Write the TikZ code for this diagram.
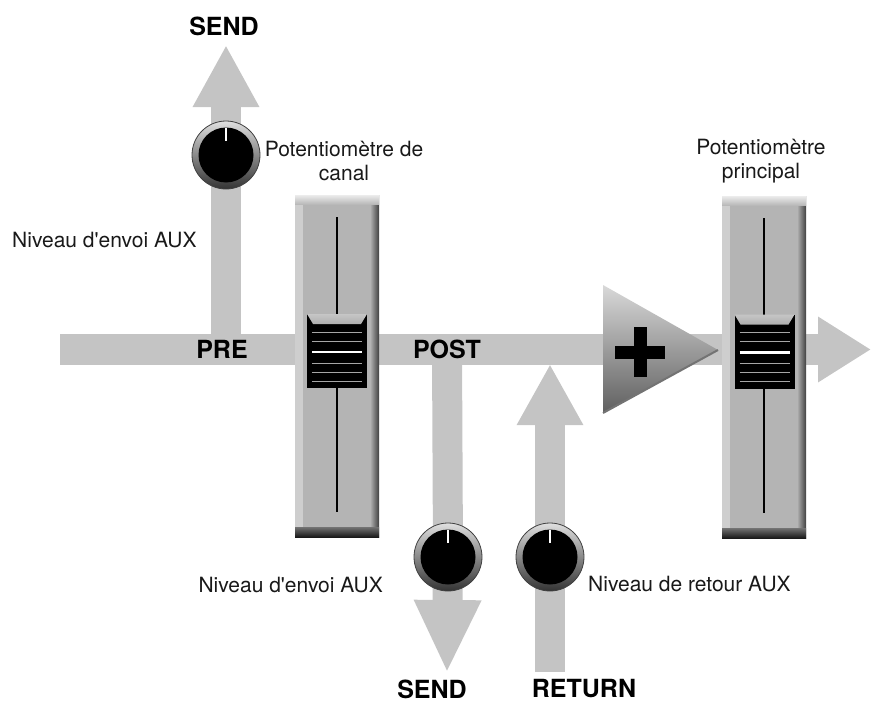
\documentclass[tikz,border=0pt]{standalone}
\usepackage{fontspec}
\setmainfont{TeX Gyre Heros}
\usetikzlibrary{arrows.meta,backgrounds}

\definecolor{siggray}{RGB}{196,196,196}
\definecolor{panelgray}{RGB}{180,180,180}
\definecolor{bevellight}{RGB}{206,206,206}

\tikzset{
  sig/.style={draw=siggray, line width=30pt, -{Triangle[length=#1,width=62pt]}},
  sig/.default=62pt,
  lbl/.style={font=\fontsize{21}{24}\selectfont, inner sep=0pt, text=black!90},
  tag/.style={font=\fontsize{25}{28}\selectfont\bfseries, inner sep=0pt},
  knob/.style={circle, minimum size=68pt, inner sep=0pt, draw=black!75, line width=0.8pt,
    top color=gray!25, bottom color=black!80,
    path picture={
      \fill[black] (path picture bounding box.center) circle[radius=27.5pt];
      \draw[white, line width=2pt] ([yshift=27pt]path picture bounding box.center)
        -- ([yshift=14pt]path picture bounding box.center);
    }},
  fader/.style={rectangle, inner sep=0pt, minimum width=84pt, minimum height=342pt, fill=panelgray,
    path picture={
      \fill[bevellight] (path picture bounding box.north west) rectangle ([xshift=8pt]path picture bounding box.south west);
      \shade[left color=panelgray, right color=black!75] ([xshift=-9pt]path picture bounding box.north east)
        rectangle (path picture bounding box.south east);
      \shade[top color=gray!15, bottom color=gray!55] (path picture bounding box.north west)
        rectangle ([yshift=-9pt]path picture bounding box.north east);
      \shade[top color=black!55, bottom color=black!90] ([yshift=10pt]path picture bounding box.south west)
        rectangle (path picture bounding box.south east);
      \draw[black, line width=2.5pt] ([yshift=-22pt]path picture bounding box.north)
        -- ([yshift=25pt]path picture bounding box.south);
    }},
  fadercap/.style={rectangle, inner sep=0pt, minimum width=60pt, minimum height=74pt, fill=black,
    path picture={
      \shade[top color=gray!45, bottom color=black!90] (path picture bounding box.north west)
        -- (path picture bounding box.north east) -- ([shift={(-6pt,-10pt)}]path picture bounding box.north east)
        -- ([shift={(6pt,-10pt)}]path picture bounding box.north west) -- cycle;
      \foreach \d in {18pt,27pt,49pt,58pt,67pt}
        \draw[gray!70, line width=0.7pt] ([shift={(5pt,-\d)}]path picture bounding box.north west)
          -- ([shift={(-5pt,-\d)}]path picture bounding box.north east);
      \draw[white, line width=2.5pt] ([shift={(5pt,-38pt)}]path picture bounding box.north west)
        -- ([shift={(-5pt,-38pt)}]path picture bounding box.north east);
    }}
}

\begin{document}
\begin{tikzpicture}[x=1pt, y=-1pt]
  \useasboundingbox (0,0) rectangle (871,704);

  % bus points
  \coordinate (in) at (60,349.5);
  \coordinate (out) at (871,349.5);
  \coordinate (pre) at (226,349.5);
  \coordinate (post) at (447,349.5);
  \coordinate (sendtop) at (226,45);
  \coordinate (sendbot) at (447,673);
  \coordinate (retin) at (550,672);
  \coordinate (retout) at (550,364);

  % faders
  \node[fader] (chfader) at (337,366) {};
  \node[fadercap] (chcap) at (337,351) {};
  \node[fader] (mainfader) at (764,367) {};
  \node[fadercap] (maincap) at (764.5,351.5) {};

  % summing amp
  \shade[top color=gray!30, bottom color=gray!75!black] (603,285) -- (603,413) -- (718,350) -- cycle;
  \draw[black!55, line width=2pt] (603,413) -- (718,350);
  \coordinate (sum) at (640,352);
  \draw[line width=13pt] (615,352) -- (665,352) (640,327) -- (640,377);

  % knobs
  \node[knob] (potpre) at (226,155) {};
  \node[knob] (potpost) at (448,557) {};
  \node[knob] (potret) at (550,557) {};

  % signal flow
  \begin{scope}[on background layer]
    \draw[sig=53pt, line width=31pt] (in) -- (out);
    \draw[sig] (pre) -- (potpre.center) -- (sendtop);
    \draw[sig=73pt] (post) -- (potpost.center) -- (sendbot);
    \draw[sig=61pt] (retin) -- (potret.center) -- (retout);
  \end{scope}

  % labels
  \node[tag] (lsendtop) at (224,26) {SEND};
  \node[tag] (lpre) at (222,349) {PRE};
  \node[tag] (lpost) at (447,349) {POST};
  \node[tag] (lsendbot) at (432,689) {SEND};
  \node[tag] (lret) at (584,689) {RETURN};
  \node[lbl, align=center] (lch) at (344,161) {Potentiomètre de\\canal};
  \node[lbl, align=center] (lmain) at (761,161) {Potentiomètre\\principal};
  \node[lbl, anchor=west] (lauxpre) at (12,240) {Niveau d\textquotesingle envoi AUX};
  \node[lbl, anchor=east] (lauxpost) at (383,585) {Niveau d\textquotesingle envoi AUX};
  \node[lbl, anchor=west] (lauxret) at (588,584) {Niveau de retour AUX};
\end{tikzpicture}
\end{document}
